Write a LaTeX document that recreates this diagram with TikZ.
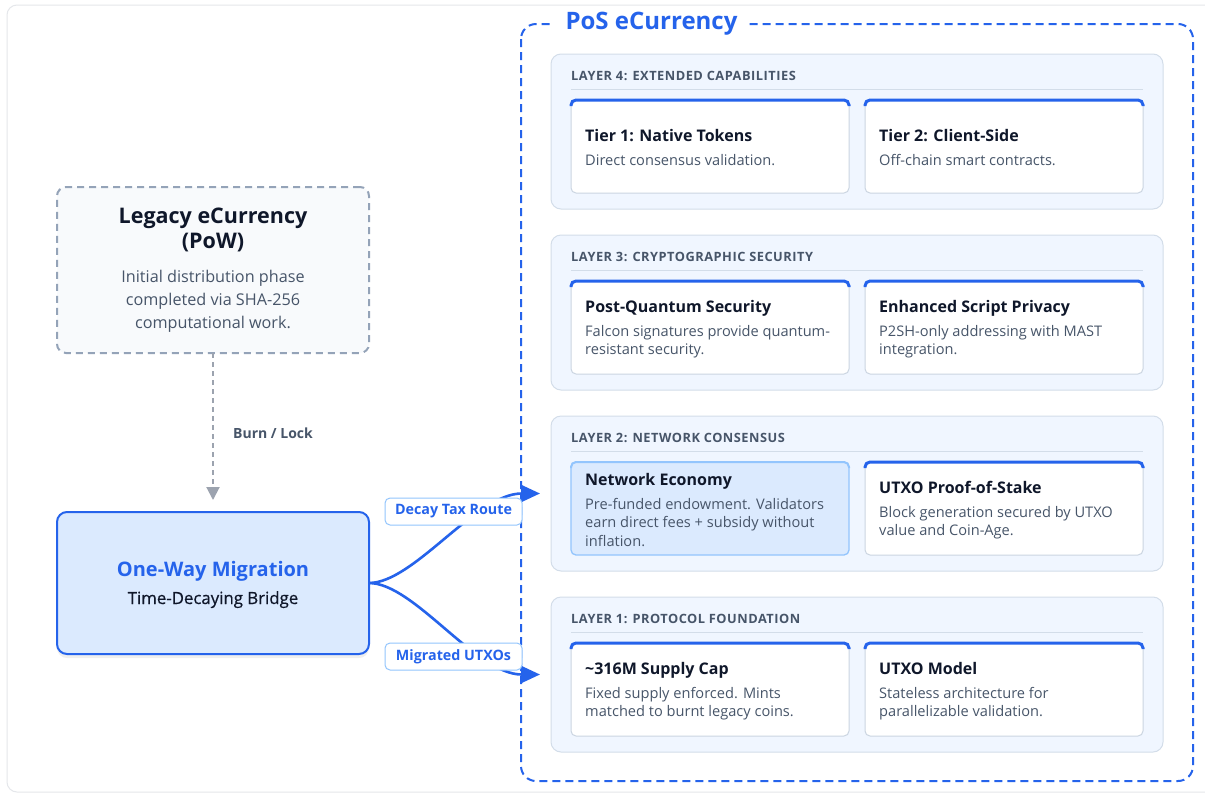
\documentclass[tikz,border=0pt]{standalone}
\usepackage{fontspec}
\setmainfont{Open Sans}
\usetikzlibrary{arrows.meta,shadows}
\definecolor{blu}{HTML}{2563EB}
\definecolor{dark}{HTML}{0F172A}
\definecolor{gry}{HTML}{475569}
\definecolor{layerf}{HTML}{F0F6FF}
\definecolor{layerb}{HTML}{D3DDE9}
\definecolor{cardb}{HTML}{CBD5E1}
\definecolor{legf}{HTML}{F8FAFC}
\definecolor{legb}{HTML}{94A3B8}
\definecolor{migf}{HTML}{DBEAFE}
\definecolor{lblb}{HTML}{93C5FD}
\definecolor{framec}{HTML}{E5E7EB}
\definecolor{arrg}{HTML}{9CA3AF}
\tikzset{
  layerbox/.style={draw=layerb, fill=layerf, line width=1pt, rounded corners=10pt, minimum width=612pt, minimum height=155pt, inner sep=0pt, outer sep=0pt},
  cardbox/.style={draw=cardb, fill=white, line width=1pt, rounded corners=5pt, minimum width=278pt, minimum height=93pt, inner sep=0pt, outer sep=0pt},
  hicard/.style={cardbox, fill=migf, draw=lblb, line width=1.3pt},
  topbar/.style={draw=blu, line width=3pt, rounded corners=5pt},
  hdr/.style={anchor=base west, font=\bfseries\fontsize{12.8}{15}\selectfont\addfontfeatures{LetterSpace=4}, text=gry, inner sep=0pt},
  ctitle/.style={anchor=base west, font=\bfseries\fontsize{16}{19}\selectfont, text=dark, inner sep=0pt},
  cbody/.style={anchor=base west, align=left, font=\fontsize{14.6}{18.5}\selectfont, text=gry, inner sep=0pt},
  divline/.style={draw=layerb, line width=1pt},
  flow/.style={draw=blu, line width=2.6pt, shorten >=11pt, -{Triangle[length=19pt,width=17pt]}},
  lbl/.style={draw=lblb, fill=white, line width=1pt, rounded corners=5pt, minimum width=137pt, minimum height=27pt, inner sep=0pt, text=blu, font=\bfseries\fontsize{14.3}{16}\selectfont},
}
\begin{document}
\begin{tikzpicture}[x=1pt,y=-1pt]
\useasboundingbox (0,0) rectangle (1205,793);
\fill[white] (0,0) rectangle (1205,793);
\draw[framec, fill=white, line width=1pt, rounded corners=10pt] (7,5) rectangle (1220,792);

% ---- PoS container
\draw[blu, line width=2pt, dash pattern=on 8pt off 5pt, rounded corners=15pt] (521,24) rectangle (1193,781);
\node[fill=white, inner xsep=12pt, inner ysep=2pt, text=blu, font=\bfseries\fontsize{24}{27}\selectfont] (pos) at (651.5,24) {PoS eCurrency};

% ---- Layers
\node[layerbox] (L4) at (857,131.5) {};
\node[layerbox] (L3) at (857,312.5) {};
\node[layerbox] (L2) at (857,493.5) {};
\node[layerbox] (L1) at (857,674.5) {};

\node[hdr] (h4) at (571,80.5) {LAYER 4: EXTENDED CAPABILITIES};
\node[hdr] (h3) at (571,261.5) {LAYER 3: CRYPTOGRAPHIC SECURITY};
\node[hdr] (h2) at (571,442.5) {LAYER 2: NETWORK CONSENSUS};
\node[hdr] (h1) at (571,623.5) {LAYER 1: PROTOCOL FOUNDATION};
\draw[divline] (571,89.5) -- (1143,89.5);
\draw[divline] (571,270.5) -- (1143,270.5);
\draw[divline] (571,451.5) -- (1143,451.5);
\draw[divline] (571,632.5) -- (1143,632.5);

% cards
\node[cardbox] (c41) at (710,146.5) {};
\node[cardbox] (c42) at (1004,146.5) {};
\node[cardbox] (c31) at (710,327.5) {};
\node[cardbox] (c32) at (1004,327.5) {};
\node[hicard] (c21) at (710,508.5) {};
\node[cardbox] (c22) at (1004,508.5) {};
\node[cardbox] (c11) at (710,689.5) {};
\node[cardbox] (c12) at (1004,689.5) {};
\foreach \c in {c41,c42,c31,c32,c22,c11,c12}{
  \draw[topbar] ([yshift=-6pt]\c.north west) -- (\c.north west) -- (\c.north east) -- ([yshift=-6pt]\c.north east);
}
\draw[topbar, draw=lblb, line width=2pt] ([yshift=-6pt]c21.north west) -- (c21.north west) -- (c21.north east) -- ([yshift=-6pt]c21.north east);

\node[ctitle] (t41) at (585,141) {Tier 1: Native Tokens};
\node[cbody] (b41) at (585,165) {Direct consensus validation.};
\node[ctitle] (t42) at (879,141) {Tier 2: Client-Side};
\node[cbody] (b42) at (879,165) {Off-chain smart contracts.};

\node[ctitle] (t31) at (585,312) {Post-Quantum Security};
\node[cbody] (b31) at (585,354.5) {Falcon signatures provide quantum-\\resistant security.};
\node[ctitle] (t32) at (879,312) {Enhanced Script Privacy};
\node[cbody] (b32) at (879,354.5) {P2SH-only addressing with MAST\\integration.};

\node[ctitle] (t21) at (585,485) {Network Economy};
\node[cbody] (b21) at (585,546) {Pre-funded endowment. Validators\\earn direct fees + subsidy without\\inflation.};
\node[ctitle] (t22) at (879,493) {UTXO Proof-of-Stake};
\node[cbody] (b22) at (879,535.5) {Block generation secured by UTXO\\value and Coin-Age.};

\node[ctitle] (t11) at (585,674) {\textasciitilde316M Supply Cap};
\node[cbody] (b11) at (585,716.5) {Fixed supply enforced. Mints\\matched to burnt legacy coins.};
\node[ctitle] (t12) at (879,674) {UTXO Model};
\node[cbody] (b12) at (879,716.5) {Stateless architecture for\\parallelizable validation.};

% ---- Left side
\node[draw=legb, fill=legf, line width=2pt, dash pattern=on 7pt off 5pt, rounded corners=9pt, minimum width=312pt, minimum height=166pt, inner sep=0pt, outer sep=0pt] (legacy) at (213,270) {};
\node[align=center, font=\bfseries\fontsize{21.5}{25}\selectfont, text=dark, inner sep=0pt, anchor=base] (legt) at (213,248.5) {Legacy eCurrency\\(PoW)};
\node[align=center, font=\fontsize{16.2}{23}\selectfont, text=gry, inner sep=0pt, anchor=base] (legb) at (213,328.5) {Initial distribution phase\\completed via SHA-256\\computational work.};

\node[draw=blu, fill=migf, line width=2pt, rounded corners=10pt, minimum width=312pt, minimum height=142pt, inner sep=0pt, outer sep=0pt, drop shadow={opacity=0.12, shadow xshift=0pt, shadow yshift=-4pt}] (mig) at (213,583) {};
\node[font=\bfseries\fontsize{20}{23}\selectfont, text=blu, inner sep=0pt, anchor=base] (migt) at (213,576.5) {One-Way Migration};
\node[font=\fontsize{16.8}{19}\selectfont\addfontfeatures{FakeBold=0.6}, text=dark, inner sep=0pt, anchor=base] (migs) at (213,604) {Time-Decaying Bridge};

\draw[arrg, line width=2pt, dash pattern=on 5pt off 4pt, shorten >=12pt, -{Triangle[length=13pt,width=13pt]}] (legacy.south) -- (mig.north);
\node[font=\bfseries\fontsize{14}{17}\selectfont, text=gry, inner sep=0pt] (burn) at (273,433) {Burn / Lock};

% ---- flows
\draw[flow] (mig.east) .. controls +(45,0) and +(-75,0) .. (L2.west);
\draw[flow] (mig.east) .. controls +(45,0) and +(-75,0) .. (L1.west);
\node[lbl] (lb1) at (453.5,511.5) {Decay Tax Route};
\node[lbl] (lb2) at (453.5,656.5) {Migrated UTXOs};
\end{tikzpicture}
\end{document}
